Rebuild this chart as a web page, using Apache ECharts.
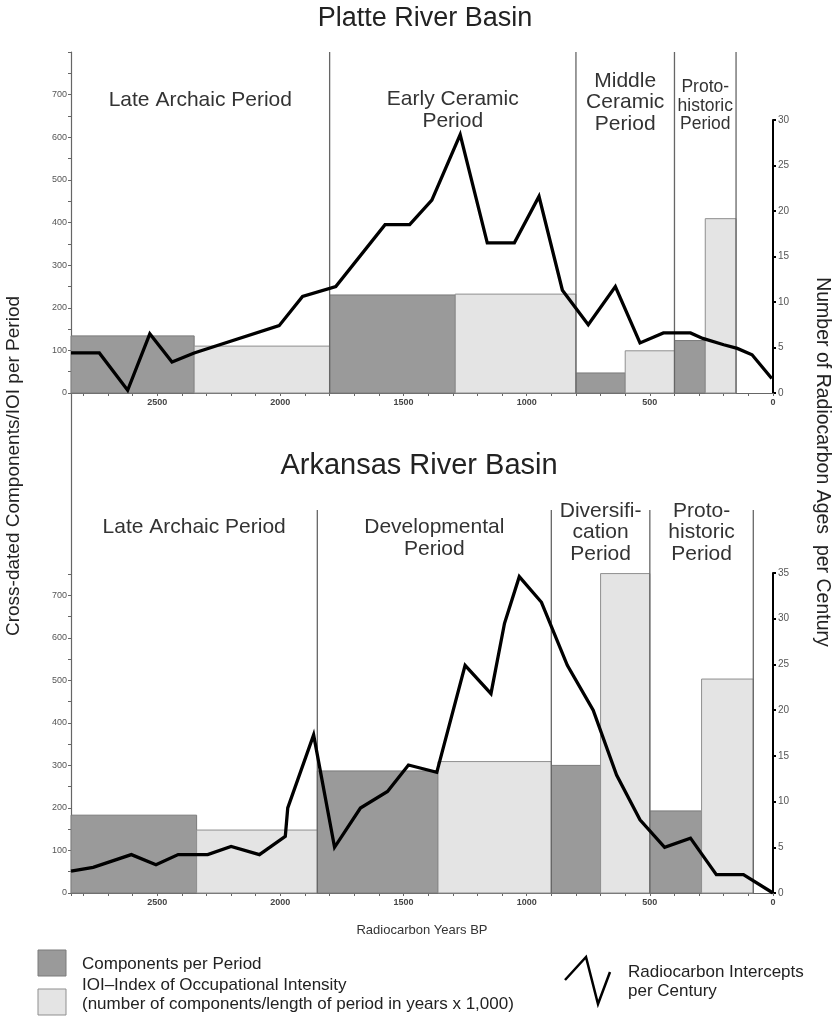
<!DOCTYPE html>
<html><head><meta charset="utf-8">
<script src="https://cdn.jsdelivr.net/npm/echarts@6/dist/echarts.min.js"></script>
<style>html,body{margin:0;padding:0;background:#fff}#c{width:835px;height:1025px}</style>
</head><body><div id="c"></div>
<script>
// ---------------- DATA ----------------
// Platte River Basin
const plattePeriodNames = ['Late Archaic Period', 'Early Ceramic\nPeriod', 'Middle\nCeramic\nPeriod', 'Proto-\nhistoric\nPeriod'];
const plattePeriodStart = [2850, 1800, 800, 400];
const plattePeriodEnd = [1800, 800, 400, 150];
const platteCompStart = [2850, 1800, 800, 400];
const platteCompEnd = [2350, 1290, 600, 275];
const platteCompValue = [134, 230, 47, 123];
const platteIoiStart = [2350, 1290, 600, 275];
const platteIoiEnd = [1800, 800, 400, 150];
const platteIoiValue = [110, 232, 99, 409];
const platteLineYears = [2850, 2735, 2620, 2530, 2440, 2350, 2005, 1910, 1775, 1575, 1475, 1385, 1270, 1160, 1050, 950, 855, 750, 640, 540, 445, 335, 285, 200, 145, 85, 5];
const platteLineValues = [4.4, 4.4, 0.3, 6.5, 3.4, 4.4, 7.4, 10.6, 11.7, 18.5, 18.5, 21.2, 28.4, 16.5, 16.5, 21.6, 11.3, 7.5, 11.7, 5.5, 6.6, 6.6, 6.0, 5.3, 4.9, 4.2, 1.6];

// Arkansas River Basin
const arkPeriodNames = ['Late Archaic Period', 'Developmental\nPeriod', 'Diversifi-\ncation\nPeriod', 'Proto-\nhistoric\nPeriod'];
const arkPeriodStart = [2850, 1850, 900, 500];
const arkPeriodEnd = [1850, 900, 500, 80];
const arkCompStart = [2850, 1850, 900, 500];
const arkCompEnd = [2340, 1360, 700, 290];
const arkCompValue = [183, 287, 300, 193];
const arkIoiStart = [2340, 1360, 700, 290];
const arkIoiEnd = [1850, 900, 500, 80];
const arkIoiValue = [148, 309, 751, 503];
const arkLineYears = [2850, 2760, 2605, 2505, 2415, 2295, 2200, 2085, 1980, 1970, 1865, 1780, 1675, 1565, 1480, 1365, 1250, 1145, 1090, 1030, 940, 835, 730, 635, 540, 440, 335, 230, 120, 0];
const arkLineValues = [2.4, 2.8, 4.2, 3.1, 4.2, 4.2, 5.1, 4.2, 6.2, 9.3, 17.3, 5.0, 9.3, 11.1, 14.0, 13.2, 24.9, 21.8, 29.5, 34.6, 31.8, 24.9, 20.0, 12.9, 8.0, 5.0, 6.0, 2.0, 2.0, 0];

// Axis settings
const yearMax = 2850;
const leftMaxTop = 800, leftMaxBottom = 750;
const rightMaxTop = 30, rightMaxBottom = 35;

// ---------------- LAYOUT / STYLE ----------------
const FONT = "'Liberation Sans', Arial, Helvetica, sans-serif";
const DARK = '#9a9a9a', DARK_B = '#7a7a7a', LIGHT = '#e4e4e4', LIGHT_B = '#8f8f8f';
const topLabelLayout = [
  {top: 89, size: 21, lh: 22}, {top: 88, size: 21, lh: 22}, {top: 70, size: 21, lh: 21.5}, {top: 78, size: 17.5, lh: 18.5}
];
const botLabelLayout = [
  {top: 516, size: 21, lh: 22}, {top: 516, size: 21, lh: 22}, {top: 500, size: 21, lh: 21.5}, {top: 500, size: 21, lh: 21.5}
];

const chart = echarts.init(document.getElementById('c'));

const GL = 71, GR = 62;
const grid = [
  {left: GL, right: GR, top: 52, height: 341},   // 0 top left axis
  {left: GL, right: GR, top: 120, height: 273},  // 1 top right axis
  {left: GL, right: GR, top: 574, height: 319},  // 2 bottom left axis
  {left: GL, right: GR, top: 573, height: 320},  // 3 bottom right axis
  {left: GL, right: GR, top: 393, height: 181},  // 4 connector
  {left: GL, right: GR, top: 510, height: 383}   // 5 bottom period lines
];

function xAx(gi, show) {
  return {
    type: 'value', gridIndex: gi, min: 0, max: yearMax, inverse: true, interval: 100, show: show,
    axisLine: {show: true, onZero: false, lineStyle: {color: '#666', width: 1}},
    axisTick: {show: true, length: 3, lineStyle: {color: '#666'}},
    axisLabel: {formatter: v => (v % 500 === 0 ? String(v) : ''), fontSize: 9, color: '#444', margin: 5, fontFamily: FONT, fontWeight: 'bold'},
    splitLine: {show: false}
  };
}
function yLeft(gi, max) {
  return {
    type: 'value', gridIndex: gi, position: 'left', min: 0, max: max, interval: 50,
    axisLine: {show: true, onZero: false, lineStyle: {color: '#666', width: 1.2}},
    axisTick: {show: true, length: 3, lineStyle: {color: '#666'}},
    axisLabel: {formatter: v => (v % 100 === 0 && v <= 700 ? String(v) : ''), fontSize: 9, color: '#555', margin: 4, fontFamily: FONT},
    splitLine: {show: false}
  };
}
function yRight(gi, max) {
  return {
    type: 'value', gridIndex: gi, position: 'right', min: 0, max: max, interval: 5,
    axisLine: {show: true, onZero: false, lineStyle: {color: '#000', width: 2}},
    axisTick: {show: true, length: 3, lineStyle: {color: '#000', width: 2}},
    axisLabel: {fontSize: 10, color: '#555', margin: 5, fontFamily: FONT},
    splitLine: {show: false}
  };
}

function barSeries(xi, yi, starts, ends, vals, fill, stroke) {
  return {
    type: 'custom', xAxisIndex: xi, yAxisIndex: yi, z: 2,
    encode: {x: [0, 1], y: 2},
    data: starts.map((s, i) => [s, ends[i], vals[i]]),
    renderItem: function (params, api) {
      const p0 = api.coord([api.value(0), api.value(2)]);
      const p1 = api.coord([api.value(1), 0]);
      return {type: 'rect', shape: {x: Math.min(p0[0], p1[0]), y: p0[1], width: Math.abs(p1[0] - p0[0]), height: p1[1] - p0[1]},
        style: {fill: fill, stroke: stroke, lineWidth: 1}};
    },
    silent: true
  };
}
function boundarySeries(xi, yi, ends, yTop) {
  return {
    type: 'custom', xAxisIndex: xi, yAxisIndex: yi, z: 3, clip: false,
    data: ends.map(e => [e]),
    encode: {x: 0},
    renderItem: function (params, api) {
      const a = api.coord([api.value(0), 0]);
      const b = api.coord([api.value(0), yTop]);
      return {type: 'line', shape: {x1: a[0], y1: a[1], x2: b[0], y2: b[1]}, style: {stroke: '#666', lineWidth: 1.3}};
    },
    silent: true
  };
}
function periodLabelSeries(xi, yi, names, starts, ends, layout) {
  return {
    type: 'custom', xAxisIndex: xi, yAxisIndex: yi, z: 4, clip: false,
    data: starts.map((s, i) => [s, ends[i], i]),
    encode: {x: [0, 1]},
    renderItem: function (params, api) {
      const i = api.value(2);
      const mid = (api.value(0) + api.value(1)) / 2;
      const p = api.coord([mid, 0]);
      const L = layout[i];
      return {type: 'text', style: {text: names[i], x: p[0], y: L.top, align: 'center', verticalAlign: 'top',
        fontSize: L.size, lineHeight: L.lh, fontFamily: FONT, fill: '#333'}};
    },
    silent: true
  };
}
function lineSeries(xi, yi, years, vals) {
  return {
    type: 'line', xAxisIndex: xi, yAxisIndex: yi, z: 10, symbol: 'none', animation: false,
    data: years.map((y, i) => [y, vals[i]]),
    lineStyle: {color: '#000', width: 3.3, join: 'miter', miterLimit: 10}
  };
}

const option = {
  animation: false,
  backgroundColor: '#fff',
  grid: grid,
  xAxis: [xAx(0, true), xAx(1, false), xAx(2, true), xAx(3, false), xAx(4, false), xAx(5, false)],
  yAxis: [
    yLeft(0, leftMaxTop),
    yRight(1, rightMaxTop),
    yLeft(2, leftMaxBottom),
    yRight(3, rightMaxBottom),
    {type: 'value', gridIndex: 4, position: 'left', min: 0, max: 1, axisLine: {show: true, onZero: false, lineStyle: {color: '#666', width: 1.2}}, axisTick: {show: false}, axisLabel: {show: false}, splitLine: {show: false}},
    {type: 'value', gridIndex: 5, min: 0, max: 1, show: false}
  ],
  series: [
    barSeries(0, 0, platteCompStart, platteCompEnd, platteCompValue, DARK, DARK_B),
    barSeries(0, 0, platteIoiStart, platteIoiEnd, platteIoiValue, LIGHT, LIGHT_B),
    boundarySeries(0, 0, plattePeriodStart.slice(1).concat([plattePeriodEnd[plattePeriodEnd.length - 1]]), leftMaxTop),
    periodLabelSeries(0, 0, plattePeriodNames, plattePeriodStart, plattePeriodEnd, topLabelLayout),
    lineSeries(1, 1, platteLineYears, platteLineValues),
    barSeries(2, 2, arkCompStart, arkCompEnd, arkCompValue, DARK, DARK_B),
    barSeries(2, 2, arkIoiStart, arkIoiEnd, arkIoiValue, LIGHT, LIGHT_B),
    boundarySeries(5, 5, arkPeriodStart.slice(1).concat([arkPeriodEnd[arkPeriodEnd.length - 1]]), 1),
    periodLabelSeries(5, 5, arkPeriodNames, arkPeriodStart, arkPeriodEnd, botLabelLayout),
    lineSeries(3, 3, arkLineYears, arkLineValues)
  ],
  graphic: [
    {type: 'text', x: 425, y: 19, style: {text: 'Platte River Basin', align: 'center', verticalAlign: 'middle', fontSize: 27, fontFamily: FONT, fill: '#222'}},
    {type: 'text', x: 419, y: 466, style: {text: 'Arkansas River Basin', align: 'center', verticalAlign: 'middle', fontSize: 29, fontFamily: FONT, fill: '#222'}},
    {type: 'text', x: 14, y: 466, rotation: Math.PI / 2, style: {text: 'Cross-dated Components/IOI per Period', align: 'center', verticalAlign: 'middle', fontSize: 19, fontFamily: FONT, fill: '#222'}},
    {type: 'text', x: 822, y: 462, rotation: -Math.PI / 2, style: {text: 'Number of Radiocarbon Ages  per Century', align: 'center', verticalAlign: 'middle', fontSize: 19.5, fontFamily: FONT, fill: '#222'}},
    {type: 'text', x: 422, y: 930, style: {text: 'Radiocarbon Years BP', align: 'center', verticalAlign: 'middle', fontSize: 13, fontFamily: FONT, fill: '#333'}},
    {type: 'rect', shape: {x: 38, y: 950, width: 28, height: 26}, style: {fill: DARK, stroke: DARK_B, lineWidth: 1}},
    {type: 'text', x: 82, y: 964, style: {text: 'Components per Period', verticalAlign: 'middle', fontSize: 17, fontFamily: FONT, fill: '#222'}},
    {type: 'rect', shape: {x: 38, y: 989, width: 28, height: 26}, style: {fill: LIGHT, stroke: LIGHT_B, lineWidth: 1}},
    {type: 'text', x: 82, y: 985, style: {text: 'IOI\u2013Index of Occupational Intensity', verticalAlign: 'middle', fontSize: 17, fontFamily: FONT, fill: '#222'}},
    {type: 'text', x: 82, y: 1004, style: {text: '(number of components/length of period in years x 1,000)', verticalAlign: 'middle', fontSize: 17, fontFamily: FONT, fill: '#222'}},
    {type: 'polyline', shape: {points: [[565, 980], [586, 957], [598, 1004], [610, 972]]}, style: {stroke: '#000', lineWidth: 2.5, fill: null}},
    {type: 'text', x: 628, y: 972, style: {text: 'Radiocarbon Intercepts', verticalAlign: 'middle', fontSize: 17, fontFamily: FONT, fill: '#222'}},
    {type: 'text', x: 628, y: 991, style: {text: 'per Century', verticalAlign: 'middle', fontSize: 17, fontFamily: FONT, fill: '#222'}}
  ]
};
chart.setOption(option);
</script>
</body></html>
